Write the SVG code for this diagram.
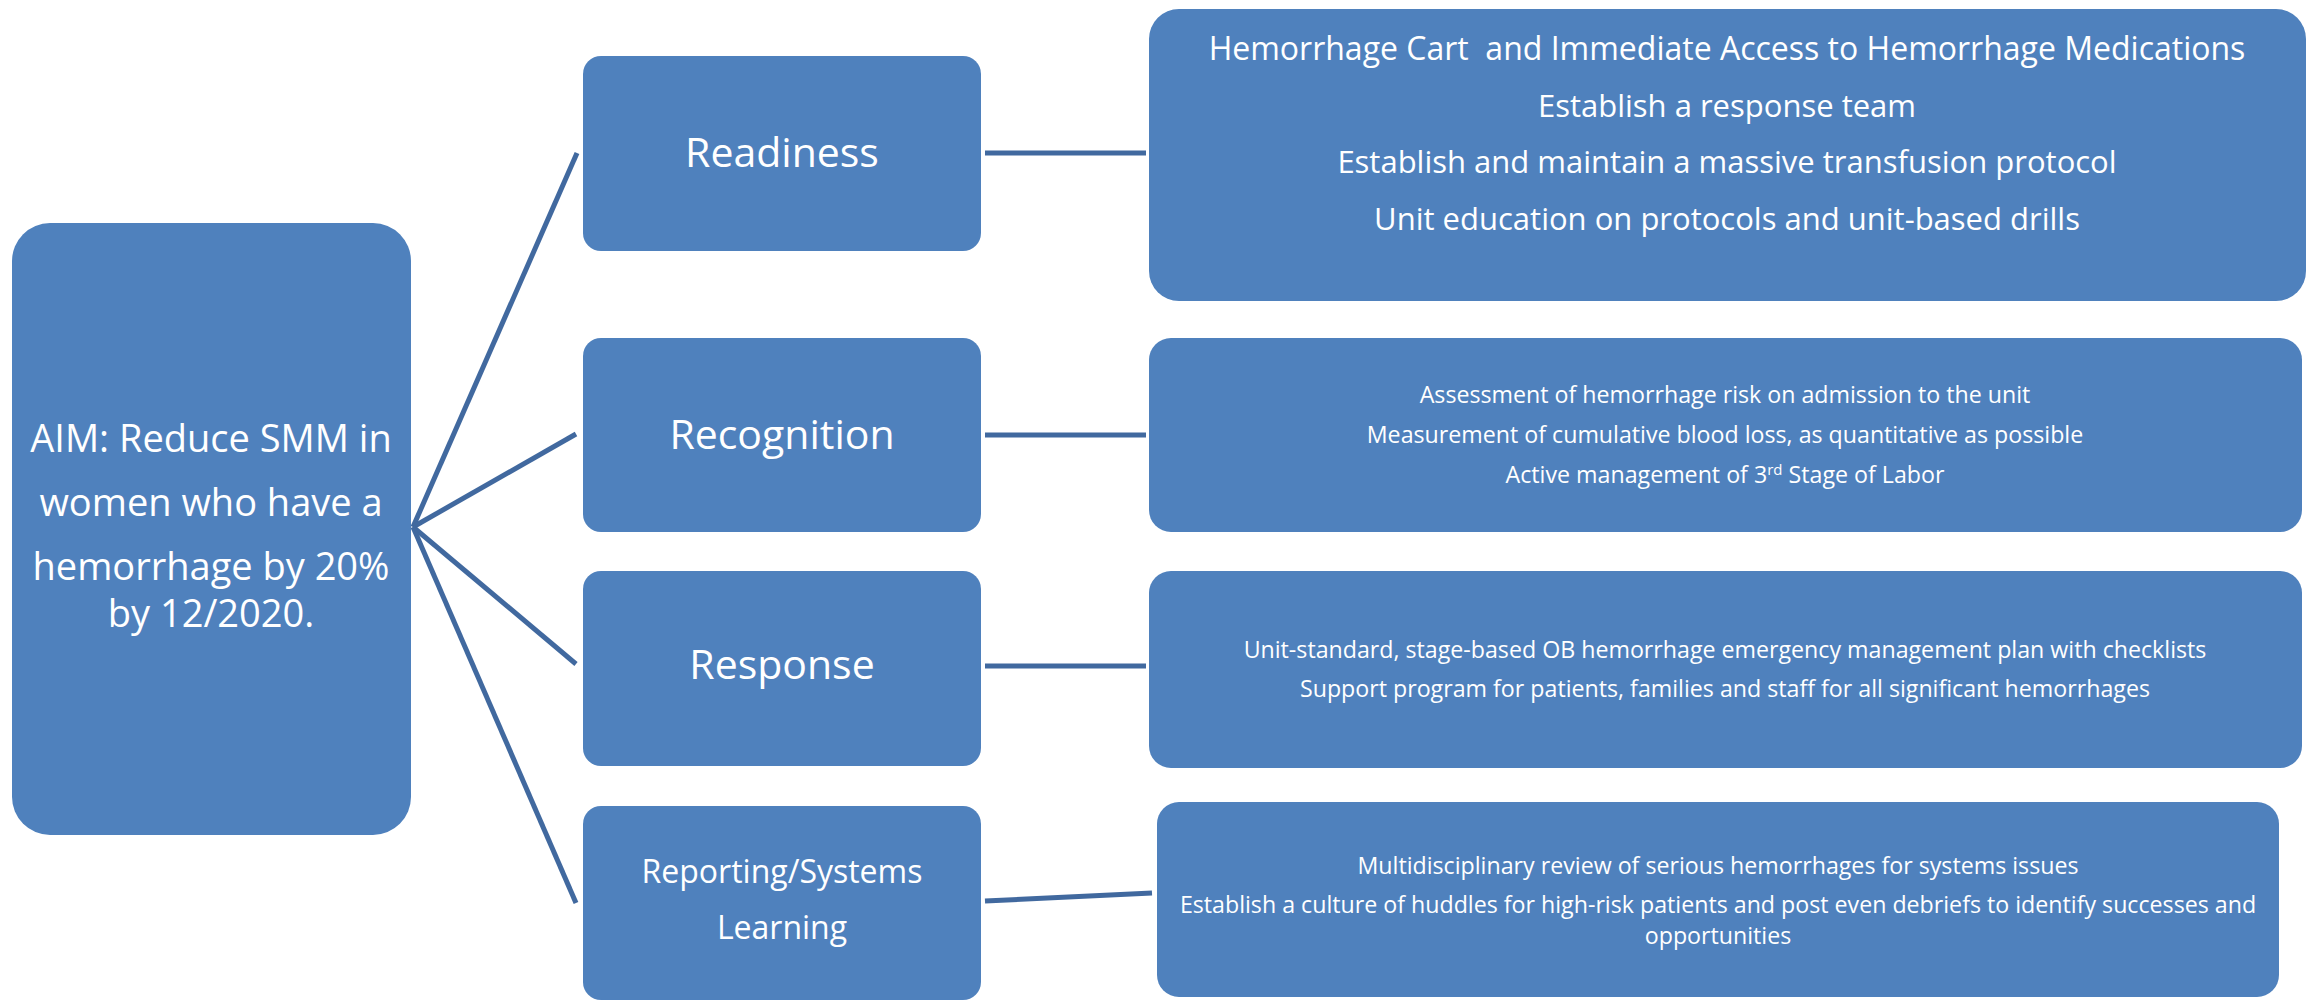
<svg xmlns="http://www.w3.org/2000/svg" width="2313" height="1002" viewBox="0 0 2313 1002">
<style>
.box{fill:#4F81BD;}
.t{fill:#FFFFFF;font-family:"Open Sans","Noto Sans","DejaVu Sans",sans-serif;text-anchor:middle;}
.con{stroke:#41699F;stroke-width:5;fill:none;stroke-linecap:butt;}
</style>
<rect width="2313" height="1002" fill="#FFFFFF"/>
<g id="connectors">
<line class="con" x1="413" y1="527" x2="577" y2="153"/>
<line class="con" x1="413" y1="527" x2="576" y2="434"/>
<line class="con" x1="413" y1="527" x2="576" y2="664"/>
<line class="con" x1="413" y1="527" x2="576" y2="903"/>
<line class="con" x1="985" y1="153" x2="1146" y2="153"/>
<line class="con" x1="985" y1="435" x2="1146" y2="435"/>
<line class="con" x1="985" y1="666" x2="1146" y2="666"/>
<line class="con" x1="985" y1="901" x2="1152" y2="893"/>
</g>
<g id="aim">
<rect class="box" x="12" y="223" width="399" height="612" rx="38"/>
<text class="t" font-size="38"><tspan x="211" y="452">AIM: Reduce SMM in</tspan><tspan x="211" y="516">women who have a</tspan><tspan x="211" y="580">hemorrhage by 20%</tspan><tspan x="211" y="627">by 12/2020.</tspan></text>
</g>
<g id="readiness">
<rect class="box" x="583" y="56" width="398" height="195" rx="18"/>
<text class="t" font-size="41" x="782" y="167">Readiness</text>
</g>
<g id="recognition">
<rect class="box" x="583" y="338" width="398" height="194" rx="18"/>
<text class="t" font-size="41" x="782" y="449">Recognition</text>
</g>
<g id="response">
<rect class="box" x="583" y="571" width="398" height="195" rx="18"/>
<text class="t" font-size="41" x="782" y="679">Response</text>
</g>
<g id="reporting">
<rect class="box" x="583" y="806" width="398" height="194" rx="18"/>
<text class="t" font-size="32"><tspan x="782" y="883">Reporting/Systems</tspan><tspan x="782" y="939">Learning</tspan></text>
</g>
<g id="readiness-items">
<rect class="box" x="1149" y="9" width="1157" height="292" rx="30"/>
<text class="t" font-size="31"><tspan x="1727" y="60" font-size="32">Hemorrhage Cart&#160; and Immediate Access to Hemorrhage Medications</tspan><tspan x="1727" y="117">Establish a response team</tspan><tspan x="1727" y="173">Establish and maintain a massive transfusion protocol</tspan><tspan x="1727" y="230">Unit education on protocols and unit-based drills</tspan></text>
</g>
<g id="recognition-items">
<rect class="box" x="1149" y="338" width="1153" height="194" rx="22"/>
<text class="t" font-size="23.2"><tspan x="1725" y="403">Assessment of hemorrhage risk on admission to the unit</tspan><tspan x="1725" y="443">Measurement of cumulative blood loss, as quantitative as possible</tspan><tspan x="1725" y="483">Active management of 3<tspan font-size="15" dy="-8">rd</tspan><tspan dy="8"> Stage of Labor</tspan></tspan></text>
</g>
<g id="response-items">
<rect class="box" x="1149" y="571" width="1153" height="197" rx="22"/>
<text class="t" font-size="23.2"><tspan x="1725" y="658">Unit-standard, stage-based OB hemorrhage emergency management plan with checklists</tspan><tspan x="1725" y="697">Support program for patients, families and staff for all significant hemorrhages</tspan></text>
</g>
<g id="reporting-items">
<rect class="box" x="1157" y="802" width="1122" height="195" rx="22"/>
<text class="t" font-size="23.2"><tspan x="1718" y="874">Multidisciplinary review of serious hemorrhages for systems issues</tspan><tspan x="1718" y="913">Establish a culture of huddles for high-risk patients and post even debriefs to identify successes and</tspan><tspan x="1718" y="944">opportunities</tspan></text>
</g>
</svg>
